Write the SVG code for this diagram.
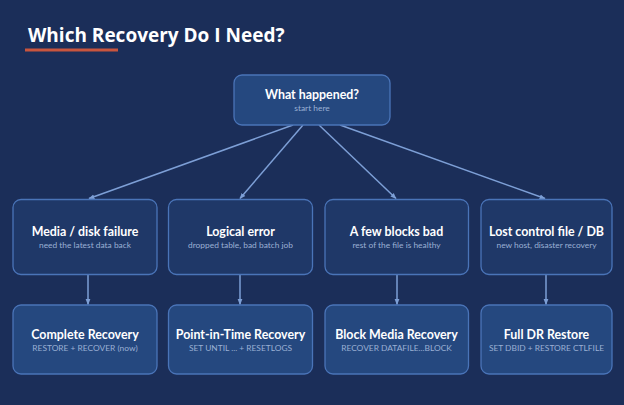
<svg xmlns="http://www.w3.org/2000/svg" width="624" height="405" viewBox="0 0 624 405">
<defs>
<style>
.bg{fill:#1b2e59}
.n rect{stroke:#4a74b8;stroke-width:1.3}
.q rect{fill:#1f3868}
.a rect{fill:#25487f}
.t{font-family:Lato,"Open Sans",sans-serif;font-weight:700;font-size:12.4px;fill:#ffffff;text-anchor:middle}
.s{font-family:Lato,"Open Sans",sans-serif;font-size:8.4px;fill:#9bb0d4;text-anchor:middle}
.c line{stroke:#7d9fd6;stroke-width:1.5;marker-end:url(#ah)}
</style>
<marker id="ah" viewBox="0 0 10 10" refX="9" refY="5" markerWidth="6" markerHeight="6" markerUnits="userSpaceOnUse" orient="auto">
<path d="M0,1 L10,5 L0,9 Z" fill="#7d9fd6"/>
</marker>
</defs>
<rect class="bg" x="0" y="0" width="624" height="405"/>
<text x="28" y="42" font-family="Open Sans, Noto Sans, sans-serif" font-weight="700" font-size="19" fill="#ffffff">Which Recovery Do I Need?</text>
<rect x="25" y="48.5" width="93" height="3" fill="#c9553e"/>
<g class="c" id="connectors">
<line x1="293" y1="125" x2="89" y2="198.5"/>
<line x1="303" y1="125" x2="240" y2="198.5"/>
<line x1="319" y1="125" x2="396" y2="198.5"/>
<line x1="340" y1="125" x2="545" y2="198.5"/>
<line x1="88" y1="274" x2="88" y2="304.5"/>
<line x1="240" y1="274" x2="240" y2="304.5"/>
<line x1="397" y1="274" x2="397" y2="304.5"/>
<line x1="546" y1="274" x2="546" y2="304.5"/>
</g>
<g class="n a" id="start">
<rect x="234" y="75" width="156" height="50" rx="8"/>
<text class="t" x="312" y="98.5">What happened?</text>
<text class="s" x="312" y="110.5">start here</text>
</g>
<g class="n q" id="media">
<rect x="13" y="199.5" width="144" height="75" rx="8"/>
<text class="t" x="85" y="236">Media / disk failure</text>
<text class="s" x="85" y="247.5">need the latest data back</text>
</g>
<g class="n q" id="logical">
<rect x="168.5" y="199.5" width="144" height="75" rx="8"/>
<text class="t" x="240.5" y="236">Logical error</text>
<text class="s" x="240.5" y="247.5">dropped table, bad batch job</text>
</g>
<g class="n q" id="blocks">
<rect x="325" y="199.5" width="143.5" height="75" rx="8"/>
<text class="t" x="396.5" y="236">A few blocks bad</text>
<text class="s" x="396.5" y="247.5">rest of the file is healthy</text>
</g>
<g class="n q" id="lost">
<rect x="481" y="199.5" width="131" height="75" rx="8"/>
<text class="t" x="546.5" y="236">Lost control file / DB</text>
<text class="s" x="546.5" y="247.5">new host, disaster recovery</text>
</g>
<g class="n a" id="complete">
<rect x="13" y="305" width="144" height="69" rx="8"/>
<text class="t" x="85" y="338.5">Complete Recovery</text>
<text class="s" x="85" y="351">RESTORE + RECOVER (now)</text>
</g>
<g class="n a" id="pitr">
<rect x="168.5" y="305" width="144" height="69" rx="8"/>
<text class="t" x="240.5" y="338.5">Point-in-Time Recovery</text>
<text class="s" x="240.5" y="351">SET UNTIL ... + RESETLOGS</text>
</g>
<g class="n a" id="bmr">
<rect x="325" y="305" width="143.5" height="69" rx="8"/>
<text class="t" x="396.5" y="338.5">Block Media Recovery</text>
<text class="s" x="396.5" y="351">RECOVER DATAFILE...BLOCK</text>
</g>
<g class="n a" id="fulldr">
<rect x="481" y="305" width="131" height="69" rx="8"/>
<text class="t" x="546.5" y="338.5">Full DR Restore</text>
<text class="s" x="546.5" y="351">SET DBID + RESTORE CTLFILE</text>
</g>
</svg>
